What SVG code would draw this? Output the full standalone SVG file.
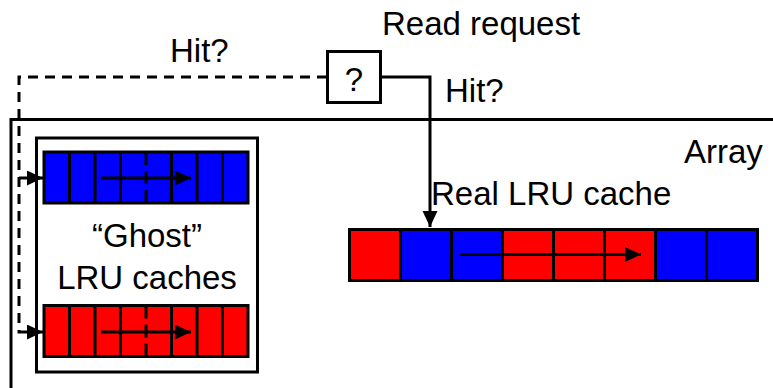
<svg xmlns="http://www.w3.org/2000/svg" width="773" height="388" viewBox="0 0 773 388">
  <style>
    .lbl { font-family: "Liberation Sans", Arial, sans-serif; font-size: 33px; fill: #000; }
    .box { fill: #fff; stroke: #000; stroke-width: 3; }
    .edge { fill: none; stroke: #000; stroke-width: 3; }
    .dash { fill: none; stroke: #000; stroke-width: 3; stroke-dasharray: 10 7; }
    .red { fill: #ff0000; stroke: #000; stroke-width: 3; }
    .blue { fill: #0000ff; stroke: #000; stroke-width: 3; }
    .div { stroke: #000; stroke-width: 3; }
    .mid { stroke: #000; stroke-width: 3; stroke-dasharray: 13 6; }
    .flow { fill: none; stroke: #000; stroke-width: 3; }
  </style>
  <defs>
    <marker id="head" markerUnits="userSpaceOnUse" markerWidth="17" markerHeight="16" refX="16" refY="7.5" orient="auto">
      <path d="M0,0 L16,7.5 L0,15 z" fill="#000"/>
    </marker>
  </defs>

  <rect width="773" height="388" fill="#fff"/>

  <!-- storage array (open on the right and bottom) -->
  <g id="array">
    <path class="edge" d="M11,390 V119.5 H775"/>
    <text class="lbl" x="684" y="163">Array</text>
  </g>

  <!-- ghost cache container -->
  <g id="ghost-caches">
    <rect class="box" x="36.5" y="138" width="221" height="234"/>
    <text class="lbl" x="147" y="247" text-anchor="middle">“Ghost”</text>
    <text class="lbl" x="147" y="289" text-anchor="middle">LRU caches</text>
  </g>

  <!-- blue ghost list -->
  <g id="ghost-blue">
    <rect class="blue" x="44" y="152" width="204" height="51"/>
    <line class="div" x1="69.5" y1="152" x2="69.5" y2="203"/>
    <line class="div" x1="95" y1="152" x2="95" y2="203"/>
    <line class="div" x1="120.5" y1="152" x2="120.5" y2="203"/>
    <line class="mid" x1="146" y1="152" x2="146" y2="203"/>
    <line class="div" x1="171.5" y1="152" x2="171.5" y2="203"/>
    <line class="div" x1="197" y1="152" x2="197" y2="203"/>
    <line class="div" x1="222.5" y1="152" x2="222.5" y2="203"/>
    <line class="flow" x1="101" y1="178" x2="191" y2="178" marker-end="url(#head)"/>
  </g>

  <!-- red ghost list -->
  <g id="ghost-red">
    <rect class="red" x="44" y="305.5" width="204" height="51"/>
    <line class="div" x1="69.5" y1="305.5" x2="69.5" y2="356.5"/>
    <line class="div" x1="95" y1="305.5" x2="95" y2="356.5"/>
    <line class="div" x1="120.5" y1="305.5" x2="120.5" y2="356.5"/>
    <line class="mid" x1="146" y1="305.5" x2="146" y2="356.5"/>
    <line class="div" x1="171.5" y1="305.5" x2="171.5" y2="356.5"/>
    <line class="div" x1="197" y1="305.5" x2="197" y2="356.5"/>
    <line class="div" x1="222.5" y1="305.5" x2="222.5" y2="356.5"/>
    <line class="flow" x1="101" y1="332" x2="191" y2="332" marker-end="url(#head)"/>
  </g>

  <!-- real LRU cache -->
  <g id="real-cache">
    <rect class="red" x="349.5" y="229.5" width="51" height="51"/>
    <rect class="blue" x="400.5" y="229.5" width="51" height="51"/>
    <rect class="blue" x="451.5" y="229.5" width="51" height="51"/>
    <rect class="red" x="502.5" y="229.5" width="51" height="51"/>
    <rect class="red" x="553.5" y="229.5" width="51" height="51"/>
    <rect class="red" x="604.5" y="229.5" width="51" height="51"/>
    <rect class="blue" x="655.5" y="229.5" width="51" height="51"/>
    <rect class="blue" x="706.5" y="229.5" width="51" height="51"/>
    <line class="flow" x1="460" y1="254.5" x2="641" y2="254.5" marker-end="url(#head)"/>
    <text class="lbl" x="431" y="205">Real LRU cache</text>
  </g>

  <!-- hit check -->
  <g id="hit-check">
    <rect class="box" x="327.5" y="51.5" width="53" height="51"/>
    <text class="lbl" x="354" y="91" text-anchor="middle">?</text>
    <text class="lbl" x="382" y="35">Read request</text>
  </g>

  <!-- connectors -->
  <g id="connectors">
    <path class="dash" d="M327,77 H19 V332 H43" marker-end="url(#head)"/>
    <path class="dash" d="M19,178 H43" marker-end="url(#head)"/>
    <path class="edge" d="M381,77 H430 V227" marker-end="url(#head)"/>
    <text class="lbl" x="170" y="62">Hit?</text>
    <text class="lbl" x="445" y="102">Hit?</text>
  </g>
</svg>
